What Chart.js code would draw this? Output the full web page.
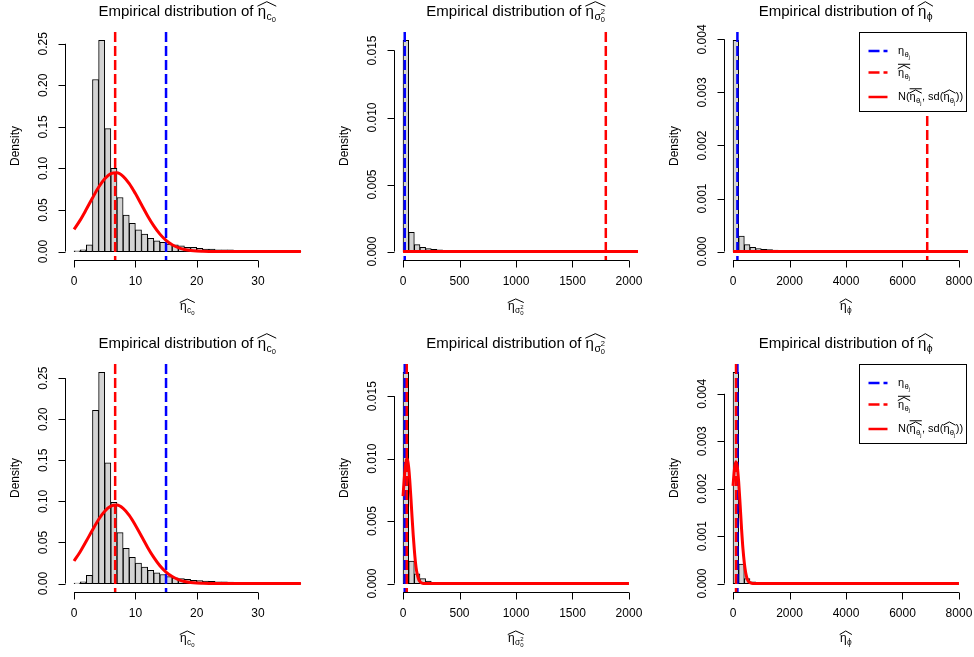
<!DOCTYPE html>
<html>
<head>
<meta charset="utf-8">
<script src="https://cdn.jsdelivr.net/npm/chart.js@4.4.1/dist/chart.umd.min.js"></script>
<style>
html, body { margin: 0; padding: 0; background: #fff; }
#wrap { position: relative; width: 974px; height: 657px; }
#wrap canvas { position: absolute; left: 0; top: 0; }
</style>
</head>
<body>
<div id="wrap"></div>
<script>
// --- histogram densities (bin widths: c0 = 1, sigma = 50, phi = 200) ---
const c0DensTop = [0.001, 0.002, 0.008, 0.207, 0.254, 0.148, 0.100, 0.065, 0.044, 0.034, 0.026, 0.021, 0.016,
  0.013, 0.011, 0.009, 0.008, 0.007, 0.005, 0.005, 0.004, 0.003, 0.003, 0.002, 0.002, 0.002, 0.0015, 0.0012,
  0.001, 0.001, 0.0008, 0.0007, 0.0006, 0.0005, 0.0004, 0.0003, 0.0002];
const sigmaDensTop = [0.01575, 0.00144, 0.00052, 0.00032, 0.00022, 0.00017, 0.00012, 0.0001, 0.00008, 0.00007,
  0.00006, 0.00005, 0.00004, 0.00004, 0.00003, 0.00003, 0.00003, 0.00002, 0.00002, 0.00002, 0.00002, 0.00002,
  0.00001, 0.00001, 0.00001, 0.00001, 0.00001, 0.00001, 0.00001, 0.00001, 0.00001, 0.00001, 0.00001, 0.00001,
  0.000005, 0.000005, 0.000005, 0.000005, 0.000005, 0.000005];
const phiDensTop = [0.00398, 0.00029, 0.000132, 0.000082, 0.000057, 0.000044, 0.000035, 0.000028, 0.000022,
  0.000018, 0.000015, 0.000012, 0.00001, 0.000009, 0.000008, 0.000007, 0.000006, 0.000005, 0.000005, 0.000004,
  0.000004, 0.000003, 0.000003, 0.000003, 0.000002, 0.000002, 0.000002, 0.000002, 0.000002, 0.000001,
  0.000001, 0.000001, 0.000001, 0.000001, 0.000001, 0.000001, 0.000001, 0.000001, 0.000001, 0.000001];
const c0DensBot = [0.0005, 0.002, 0.010, 0.211, 0.257, 0.147, 0.099, 0.062, 0.043, 0.032, 0.025, 0.020, 0.016,
  0.013, 0.011, 0.0085, 0.007, 0.006, 0.005, 0.004, 0.0036, 0.003, 0.0028, 0.0022, 0.002, 0.0017, 0.0014,
  0.0012, 0.001, 0.0008, 0.0006, 0.0005, 0.0004, 0.0003, 0.0002, 0.0002, 0.0001];
const sigmaDensBot = [0.0169, 0.00179, 0.00077, 0.0004, 0.00019, 0.0001, 0.00003, 0.00001];
const phiDensBot = [0.00445, 0.00041, 0.000105, 0.000035, 0.00001];

// --- normal density curves ---
const c0CurveX = [0, 1, 2, 3, 4, 5, 6, 7, 8, 9, 10, 11, 12, 13, 14, 15, 16, 17, 18, 19, 20, 21, 22, 25, 30, 37];
const c0CurveTop = [0.0266, 0.0378, 0.0508, 0.0644, 0.0773, 0.0875, 0.0937, 0.0948, 0.0906, 0.0818, 0.0698,
  0.0563, 0.0429, 0.0309, 0.0210, 0.0135, 0.0082, 0.0047, 0.0025, 0.0013, 0.0006, 0.0003, 0.0001, 0, 0, 0];
const c0CurveBot = [0.0275, 0.0388, 0.0518, 0.0652, 0.0780, 0.0881, 0.0942, 0.0955, 0.0915, 0.0829, 0.0710,
  0.0575, 0.0440, 0.0318, 0.0217, 0.0140, 0.0085, 0.0049, 0.0026, 0.0013, 0.0006, 0.0003, 0.0001, 0, 0, 0];
const sigmaCurveXTop = [0, 2080];
const sigmaCurveTop = [0, 0];
const phiCurveXTop = [0, 8320];
const phiCurveTop = [0, 0];
const sigmaCurveXBot = [0, 10, 20, 30, 35, 40, 50, 60, 70, 80, 90, 100, 110, 120, 130, 140, 150, 160, 180, 200, 2000];
const sigmaCurveBot = [0.0070, 0.0083, 0.0093, 0.0099, 0.0100, 0.0099, 0.0093, 0.0082, 0.0068, 0.0053, 0.0039,
  0.0027, 0.0017, 0.0010, 0.0006, 0.0003, 0.00016, 0.00007, 0.00001, 0, 0];
const phiCurveXBot = [0, 50, 100, 150, 200, 250, 300, 350, 400, 450, 500, 550, 600, 700, 8000];
const phiCurveBot = [0.00206, 0.00241, 0.00257, 0.00247, 0.00214, 0.00167, 0.00117, 0.00074, 0.00043, 0.00022,
  0.0001, 0.00004, 0.00002, 0, 0];

// --- vertical reference lines: true value (blue) and mean of estimates (red) ---
const trueValues = { c0: 15, sigma: 15, phi: 155 };
const meanTop = { c0: 6.7, sigma: 1795, phi: 6876 };
const meanBot = { c0: 6.7, sigma: 33, phi: 106 };

// --- ticks ---
const c0XTicks = [0, 10, 20, 30];
const sigmaXTicks = [0, 500, 1000, 1500, 2000];
const phiXTicks = [0, 2000, 4000, 6000, 8000];
const c0YTicks = [0, 0.05, 0.10, 0.15, 0.20, 0.25];
const c0YLabels = ["0.00", "0.05", "0.10", "0.15", "0.20", "0.25"];
const sigmaYTicks = [0, 0.005, 0.010, 0.015];
const sigmaYLabels = ["0.000", "0.005", "0.010", "0.015"];
const phiYTicks = [0, 0.001, 0.002, 0.003, 0.004];
const phiYLabels = ["0.000", "0.001", "0.002", "0.003", "0.004"];

const FONT = '"Liberation Sans", Arial, Helvetica, sans-serif';
function font(s) { return s + "px " + FONT; }

// --- little plotmath: eta with sub/sub-sub/sup, hat and bar ---
function eta(ctx, m, x, b, s, draw) {
  let cx = x;
  ctx.font = font(s);
  if (draw) ctx.fillText("η", cx, b);
  cx += ctx.measureText("η").width + s * 0.03;
  const b1 = b + s * 0.28;
  ctx.font = font(s * 0.7);
  if (draw) ctx.fillText(m.sub, cx, b1);
  cx += ctx.measureText(m.sub).width;
  let w2 = 0;
  ctx.font = font(s * 0.5);
  if (m.sub2) {
    if (draw) ctx.fillText(m.sub2, cx, b1 + s * 0.14);
    w2 = ctx.measureText(m.sub2).width;
  }
  if (m.sup2) {
    if (draw) ctx.fillText(m.sup2, cx, b1 - s * 0.36);
    w2 = Math.max(w2, ctx.measureText(m.sup2).width);
  }
  cx += w2;
  if (draw && m.hat) {
    ctx.beginPath();
    ctx.moveTo(x - s * 0.02, b - 0.62 * s);
    ctx.lineTo((x + cx) / 2, b - 0.92 * s);
    ctx.lineTo(cx + s * 0.02, b - 0.62 * s);
    ctx.stroke();
  }
  if (draw && m.bar) {
    ctx.beginPath();
    ctx.moveTo(x, b - 1.02 * s);
    ctx.lineTo(cx + s * 0.02, b - 1.02 * s);
    ctx.stroke();
  }
  return cx - x + s * 0.04;
}

function rich(ctx, items, x, b, s, draw) {
  let cx = x;
  items.forEach(it => {
    if (typeof it === "string") {
      ctx.font = font(s);
      if (draw) ctx.fillText(it, cx, b);
      cx += ctx.measureText(it).width;
    } else {
      cx += eta(ctx, it, cx, b, s, draw);
    }
  });
  return cx - x;
}

function richCentered(ctx, items, cx, b, s) {
  const w = rich(ctx, items, 0, b, s, false);
  rich(ctx, items, cx - w / 2, b, s, true);
}

const legendItems = [
  { color: "#0000FF", dash: true, items: [{ sub: "θ", sub2: "j" }] },
  { color: "#FF0000", dash: true, items: [{ sub: "θ", sub2: "j", hat: true, bar: true }] },
  { color: "#FF0000", dash: false, items: ["N(", { sub: "θ", sub2: "j", hat: true, bar: true }, ", sd(", { sub: "θ", sub2: "j", hat: true }, "))"] }
];

function decor(pn) {
  return {
    id: "decor",
    afterDatasetsDraw(chart) {
      const ctx = chart.ctx, xs = chart.scales.x, ys = chart.scales.y, a = chart.chartArea;
      ctx.save();
      ctx.fillStyle = "#000";
      ctx.strokeStyle = "#000";
      ctx.lineWidth = 1;
      ctx.setLineDash([]);

      // legend box (top right)
      if (pn.legend) {
        const bx = Math.round(a.right - 109) + 0.5, by = Math.round(a.top) + 0.5;
        ctx.fillStyle = "#fff";
        ctx.fillRect(bx, by, 107, 79);
        ctx.strokeRect(bx, by, 107, 79);
        const rows = [18.5, 40, 64.5];
        legendItems.forEach((li, i) => {
          const yy = by + rows[i];
          ctx.save();
          ctx.strokeStyle = li.color;
          ctx.lineWidth = 2.5;
          ctx.setLineDash(li.dash ? [11, 4] : []);
          ctx.beginPath();
          ctx.moveTo(bx + 9, yy);
          ctx.lineTo(bx + 28, yy);
          ctx.stroke();
          ctx.restore();
          ctx.fillStyle = "#000";
          ctx.textAlign = "left";
          ctx.textBaseline = "alphabetic";
          rich(ctx, li.items, bx + 38.5, yy + 3, 11, true);
        });
      }

      ctx.fillStyle = "#000";
      // x axis
      const yAx = Math.round(a.bottom) + 0.5;
      const xt = pn.xTicks;
      ctx.beginPath();
      ctx.moveTo(xs.getPixelForValue(xt[0]), yAx);
      ctx.lineTo(xs.getPixelForValue(xt[xt.length - 1]), yAx);
      xt.forEach(v => {
        const px = Math.round(xs.getPixelForValue(v)) + 0.5;
        ctx.moveTo(px, yAx);
        ctx.lineTo(px, yAx + 7);
      });
      ctx.stroke();
      ctx.font = font(12);
      ctx.textAlign = "center";
      ctx.textBaseline = "middle";
      xt.forEach(v => ctx.fillText(String(v), xs.getPixelForValue(v), a.bottom + 22));

      // y axis
      const xAx = Math.round(a.left) + 0.5;
      const yt = pn.yTicks;
      ctx.beginPath();
      ctx.moveTo(xAx, ys.getPixelForValue(yt[0]));
      ctx.lineTo(xAx, ys.getPixelForValue(yt[yt.length - 1]));
      yt.forEach(v => {
        const py = Math.round(ys.getPixelForValue(v)) + 0.5;
        ctx.moveTo(xAx, py);
        ctx.lineTo(xAx - 7, py);
      });
      ctx.stroke();
      yt.forEach((v, i) => {
        ctx.save();
        ctx.translate(a.left - 21, ys.getPixelForValue(v));
        ctx.rotate(-Math.PI / 2);
        ctx.fillText(pn.yLabels[i], 0, 0);
        ctx.restore();
      });
      ctx.save();
      ctx.translate(a.left - 49, (a.top + a.bottom) / 2);
      ctx.rotate(-Math.PI / 2);
      ctx.fillText("Density", 0, 0);
      ctx.restore();

      // title and x label
      ctx.textAlign = "left";
      ctx.textBaseline = "alphabetic";
      const mid = (a.left + a.right) / 2;
      const sym = Object.assign({ hat: true }, pn.sym);
      richCentered(ctx, ["Empirical distribution of ", sym], mid, a.top - 16.5, 15);
      richCentered(ctx, [sym], mid, a.bottom + 50, 12);
      ctx.restore();
    }
  };
}

function pts(xv, yv) { return xv.map((x, i) => ({ x: x, y: yv[i] })); }
function bins(dens, w) { return dens.map((d, i) => ({ x: i * w + w / 2, y: d })); }

const colLeft = [65, 394, 724];
const colWidth = [245, 244, 244];
const rowTop = [32, 364];
const rowHeight = 228;

const panels = [
  { col: 0, row: 0, dens: c0DensTop, bw: 1, xlim: [0, 37], ymax: 0.254, cx: c0CurveX, cy: c0CurveTop,
    tv: trueValues.c0, mv: meanTop.c0, xTicks: c0XTicks, yTicks: c0YTicks, yLabels: c0YLabels, sym: { sub: "c", sub2: "0" } },
  { col: 1, row: 0, dens: sigmaDensTop, bw: 50, xlim: [0, 2000], ymax: 0.01575, cx: sigmaCurveXTop, cy: sigmaCurveTop,
    tv: trueValues.sigma, mv: meanTop.sigma, xTicks: sigmaXTicks, yTicks: sigmaYTicks, yLabels: sigmaYLabels, sym: { sub: "σ", sub2: "0", sup2: "2" } },
  { col: 2, row: 0, dens: phiDensTop, bw: 200, xlim: [0, 8000], ymax: 0.00398, cx: phiCurveXTop, cy: phiCurveTop,
    tv: trueValues.phi, mv: meanTop.phi, xTicks: phiXTicks, yTicks: phiYTicks, yLabels: phiYLabels, sym: { sub: "ϕ" }, legend: true },
  { col: 0, row: 1, dens: c0DensBot, bw: 1, xlim: [0, 37], ymax: 0.257, cx: c0CurveX, cy: c0CurveBot,
    tv: trueValues.c0, mv: meanBot.c0, xTicks: c0XTicks, yTicks: c0YTicks, yLabels: c0YLabels, sym: { sub: "c", sub2: "0" } },
  { col: 1, row: 1, dens: sigmaDensBot, bw: 50, xlim: [0, 2000], ymax: 0.0169, cx: sigmaCurveXBot, cy: sigmaCurveBot,
    tv: trueValues.sigma, mv: meanBot.sigma, xTicks: sigmaXTicks, yTicks: sigmaYTicks, yLabels: sigmaYLabels, sym: { sub: "σ", sub2: "0", sup2: "2" } },
  { col: 2, row: 1, dens: phiDensBot, bw: 200, xlim: [0, 8000], ymax: 0.00445, cx: phiCurveXBot, cy: phiCurveBot,
    tv: trueValues.phi, mv: meanBot.phi, xTicks: phiXTicks, yTicks: phiYTicks, yLabels: phiYLabels, sym: { sub: "ϕ" }, legend: true }
];

const wrap = document.getElementById("wrap");
panels.forEach(pn => {
  const cv = document.createElement("canvas");
  cv.width = 974; cv.height = 657;
  cv.style.width = "974px"; cv.style.height = "657px";
  wrap.appendChild(cv);

  const L = colLeft[pn.col], W = colWidth[pn.col], T = rowTop[pn.row];
  const xr = pn.xlim[1] - pn.xlim[0];
  const xmin = pn.xlim[0] - 0.04 * xr, xmax = pn.xlim[1] + 0.04 * xr;
  const ymin = -0.04 * pn.ymax, ymax = 1.04 * pn.ymax;

  new Chart(cv, {
    type: "bar",
    data: {
      datasets: [
        { type: "bar", data: bins(pn.dens, pn.bw), backgroundColor: "#D3D3D3", borderColor: "#000",
          borderWidth: 1, borderSkipped: false, barPercentage: 1, categoryPercentage: 1, order: 10 },
        { type: "line", data: [{ x: pn.tv, y: ymax }, { x: pn.tv, y: ymin }], borderColor: "#0000FF",
          borderWidth: 2.5, borderDash: [10, 4], pointRadius: 0, order: 3 },
        { type: "line", data: [{ x: pn.mv, y: ymax }, { x: pn.mv, y: ymin }], borderColor: "#FF0000",
          borderWidth: 2.5, borderDash: [10, 4], pointRadius: 0, order: 2 },
        { type: "line", data: pts(pn.cx, pn.cy), borderColor: "#FF0000", borderWidth: 3,
          pointRadius: 0, cubicInterpolationMode: "monotone", order: 1 }
      ]
    },
    options: {
      responsive: false,
      animation: false,
      layout: { padding: { left: L, right: 974 - L - W, top: T, bottom: 657 - T - rowHeight } },
      plugins: { legend: { display: false }, tooltip: { enabled: false } },
      scales: {
        x: { type: "linear", display: false, offset: false, min: xmin, max: xmax, grid: { offset: false } },
        y: { type: "linear", display: false, min: ymin, max: ymax }
      }
    },
    plugins: [decor(pn)]
  });
});
</script>
</body>
</html>
